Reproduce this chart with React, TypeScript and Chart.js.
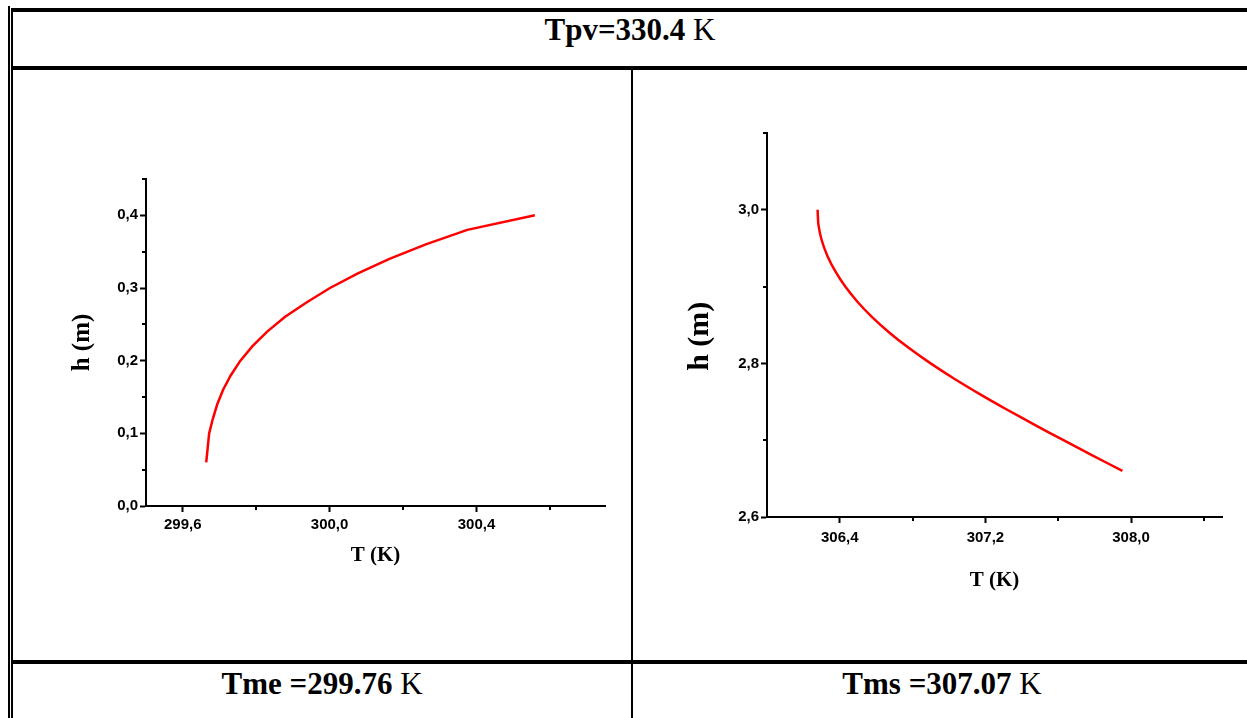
import React, { useEffect, useRef } from 'react';
import { Chart, registerables } from 'chart.js';

Chart.register(...registerables);

// ---------- data ----------
const leftT = [299.664, 299.672, 299.682, 299.694, 299.71, 299.731, 299.757, 299.79, 299.83, 299.878, 299.937, 300.001, 300.077, 300.163, 300.262, 300.375, 300.559];
const leftH = [0.06, 0.1, 0.12, 0.14, 0.16, 0.18, 0.2, 0.22, 0.24, 0.26, 0.28, 0.3, 0.32, 0.34, 0.36, 0.38, 0.4];

const rightT = [306.278, 306.283, 306.301, 306.332, 306.375, 306.43, 306.498, 306.579, 306.673, 306.78, 306.899, 307.029, 307.169, 307.317, 307.471, 307.629, 307.79, 307.953];
const rightH = [3.0, 2.98, 2.96, 2.94, 2.92, 2.9, 2.88, 2.86, 2.84, 2.82, 2.8, 2.78, 2.76, 2.74, 2.72, 2.7, 2.68, 2.66];

const leftXMajor = [299.6, 300.0, 300.4];
const leftXMinor = [299.8, 300.2, 300.6];
const leftYMajor = [0, 0.1, 0.2, 0.3, 0.4];
const leftYMinor = [0.05, 0.15, 0.25, 0.35, 0.45];

const rightXMajor = [306.4, 307.2, 308.0];
const rightXMinor = [306.8, 307.6, 308.4];
const rightYMajor = [2.6, 2.8, 3.0];
const rightYMinor = [2.7, 2.9, 3.1];

const headerLabel = 'Tpv=330.4';
const leftFootLabel = 'Tme =299.76';
const rightFootLabel = 'Tms =307.07';
const unitLabel = 'K';
const xTitle = 'T (K)';
const yTitle = 'h (m)';

// ---------- plugin: minor ticks ----------
const minorTicksPlugin = {
  id: 'minorTicks',
  afterDraw(chart: any, _args: any, opts: any) {
    const ctx = chart.ctx;
    const xs = chart.scales.x;
    const ys = chart.scales.y;
    ctx.save();
    ctx.strokeStyle = '#000';
    ctx.lineWidth = 2;
    (opts.x || []).forEach((v: number) => {
      const px = Math.round(xs.getPixelForValue(v));
      ctx.beginPath();
      ctx.moveTo(px, xs.top);
      ctx.lineTo(px, xs.top + 4);
      ctx.stroke();
    });
    (opts.y || []).forEach((v: number) => {
      const py = Math.round(ys.getPixelForValue(v));
      ctx.beginPath();
      ctx.moveTo(ys.right, py);
      ctx.lineTo(ys.right - 4, py);
      ctx.stroke();
    });
    ctx.restore();
  },
};

type Cfg = {
  T: number[]; H: number[];
  xMin: number; xMax: number; yMin: number; yMax: number;
  xMajor: number[]; xMinor: number[]; yMajor: number[]; yMinor: number[];
  tension: number;
  padTop: number; padRight: number;
  yWidth: number; xHeight: number;
  yTitleText: string;
  yTitleSize: number; yTitlePad: number;
  xTitleSize: number; xTitlePad: number;
  xTickPad: number;
};

const fmt = (v: any) => Number(v).toFixed(1).replace('.', ',');
const tickFont = { family: '"Liberation Sans", Arial, sans-serif', size: 15, weight: 'bold' as const };

function ChartPanel({ cfg, width, height, style }: { cfg: Cfg; width: number; height: number; style: React.CSSProperties }) {
  const ref = useRef<HTMLCanvasElement | null>(null);
  useEffect(() => {
    if (!ref.current) return;
    const chart = new Chart(ref.current, {
      type: 'line',
      data: {
        datasets: [
          {
            data: cfg.T.map((t, i) => ({ x: t, y: cfg.H[i] })),
            borderColor: '#ff0000',
            borderWidth: 2.5,
            pointRadius: 0,
            tension: cfg.tension,
            fill: false,
          },
        ],
      },
      options: {
        animation: false,
        responsive: false,
        devicePixelRatio: 1,
        layout: { padding: { left: 0, top: cfg.padTop, right: cfg.padRight, bottom: 0 } },
        plugins: {
          legend: { display: false },
          tooltip: { enabled: false },
          // @ts-ignore
          minorTicks: { x: cfg.xMinor, y: cfg.yMinor },
        },
        scales: {
          x: {
            type: 'linear',
            min: cfg.xMin,
            max: cfg.xMax,
            afterBuildTicks: (s: any) => { s.ticks = cfg.xMajor.map((v) => ({ value: v })); },
            afterFit: (s: any) => { s.height = cfg.xHeight; },
            border: { display: true, color: '#000', width: 2 },
            grid: { drawOnChartArea: false, drawTicks: true, tickLength: 6, tickWidth: 2, tickColor: '#000', color: '#000' },
            ticks: { autoSkip: false, maxRotation: 0, padding: cfg.xTickPad, color: '#000', font: tickFont, callback: fmt },
            title: {
              display: true,
              text: xTitle,
              color: '#000',
              font: { family: '"Liberation Serif", "Times New Roman", serif', size: cfg.xTitleSize, weight: 'bold' },
              padding: { top: 0, bottom: cfg.xTitlePad },
            },
          },
          y: {
            type: 'linear',
            min: cfg.yMin,
            max: cfg.yMax,
            afterBuildTicks: (s: any) => { s.ticks = cfg.yMajor.map((v) => ({ value: v })); },
            afterFit: (s: any) => { s.width = cfg.yWidth; },
            border: { display: true, color: '#000', width: 2 },
            grid: { drawOnChartArea: false, drawTicks: true, tickLength: 6, tickWidth: 2, tickColor: '#000', color: '#000' },
            ticks: { autoSkip: false, padding: 2, color: '#000', font: tickFont, callback: fmt },
            title: {
              display: true,
              text: cfg.yTitleText,
              color: '#000',
              font: { family: '"Liberation Serif", "Times New Roman", serif', size: cfg.yTitleSize, weight: 'bold' },
              padding: { top: cfg.yTitlePad, bottom: 0 },
            },
          },
        },
      } as any,
      plugins: [minorTicksPlugin],
    });
    return () => chart.destroy();
  }, [cfg]);
  return <canvas ref={ref} width={width} height={height} style={{ position: 'absolute', display: 'block', ...style }} />;
}

const leftCfg: Cfg = {
  T: leftT, H: leftH,
  xMin: 299.5, xMax: 300.75, yMin: 0, yMax: 0.45,
  xMajor: leftXMajor, xMinor: leftXMinor, yMajor: leftYMajor, yMinor: leftYMinor,
  tension: 0,
  padTop: 107, padRight: 25,
  yWidth: 132, xHeight: 152,
  yTitleText: yTitle,
  yTitleSize: 25, yTitlePad: 54,
  xTitleSize: 21, xTitlePad: 90,
  xTickPad: 4,
};

const rightCfg: Cfg = {
  T: rightT, H: rightH,
  xMin: 306.0, xMax: 308.5, yMin: 2.6, yMax: 3.1,
  xMajor: rightXMajor, xMinor: rightXMinor, yMajor: rightYMajor, yMinor: rightYMinor,
  tension: 0.3,
  padTop: 61, padRight: 25,
  yWidth: 134, xHeight: 141,
  yTitleText: yTitle + '\u00A0\u00A0\u00A0',
  yTitleSize: 30, yTitlePad: 49,
  xTitleSize: 21, xTitlePad: 65,
  xTickPad: 6,
};

const serif = '"Liberation Serif", "Times New Roman", serif';

function Line({ l, t, w, h }: { l: number; t: number; w: number; h: number }) {
  return <div style={{ position: 'absolute', left: l, top: t, width: w, height: h, background: '#000' }} />;
}

function Label({ bold, l, t, w }: { bold: string; l: number; t: number; w: number }) {
  return (
    <div style={{ position: 'absolute', left: l, top: t, width: w, textAlign: 'center', fontFamily: serif, fontSize: 31, lineHeight: '31px', color: '#000', whiteSpace: 'nowrap' }}>
      <span style={{ fontWeight: 'bold' }}>{bold}</span>
      <span> {unitLabel}</span>
    </div>
  );
}

export default function App() {
  return (
    <div style={{ position: 'fixed', left: 0, top: 0, width: 1247, height: 718, overflow: 'hidden', background: '#fff' }}>
      {/* table borders */}
      <Line l={8} t={6} w={2} h={712} />
      <Line l={11} t={8} w={2} h={710} />
      <Line l={11} t={8} w={1236} h={4} />
      <Line l={13} t={66} w={1234} h={4} />
      <Line l={631} t={70} w={2} h={648} />
      <Line l={13} t={660} w={1234} h={4} />

      <Label bold={headerLabel} l={13} t={14} w={1234} />
      <Label bold={leftFootLabel} l={13} t={668} w={618} />
      <Label bold={rightFootLabel} l={633} t={668} w={618} />

      <ChartPanel cfg={leftCfg} width={616} height={586} style={{ left: 14, top: 72 }} />
      <ChartPanel cfg={rightCfg} width={614} height={586} style={{ left: 633, top: 72 }} />
    </div>
  );
}
